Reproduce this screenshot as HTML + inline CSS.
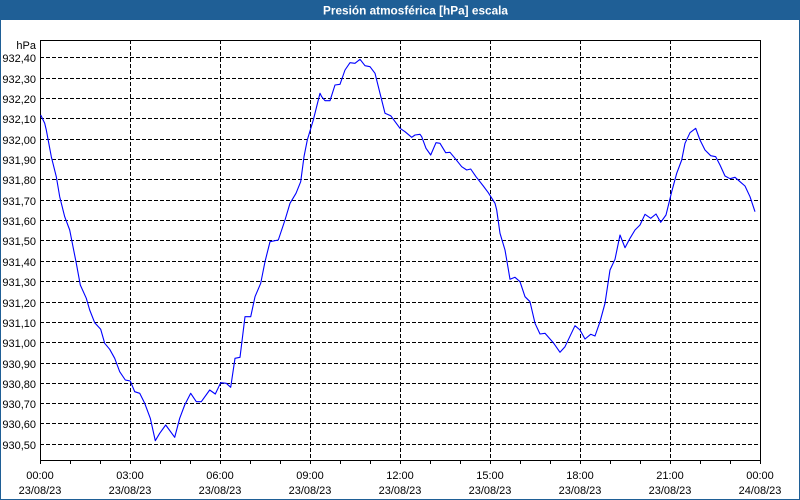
<!DOCTYPE html>
<html><head><meta charset="utf-8"><style>
html,body{margin:0;padding:0;background:#fff;}
svg{display:block;}
text{font-family:"Liberation Sans",sans-serif;font-size:11px;fill:#000;}
</style></head><body>
<svg width="800" height="500" viewBox="0 0 800 500" xmlns="http://www.w3.org/2000/svg">
<rect x="0" y="0" width="800" height="500" fill="#fff"/>
<rect x="0" y="0" width="800" height="20" fill="#1f5f96"/>
<text x="323" y="14.5" textLength="185" lengthAdjust="spacingAndGlyphs" style="font-weight:bold;font-size:12px;fill:#fff">Presión atmosférica [hPa] escala</text>
<g shape-rendering="crispEdges" fill="none">
<rect x="0.5" y="0.5" width="799" height="499" stroke="#1f5f96"/>
<g stroke="#000" stroke-dasharray="4,2">
<line x1="40" y1="57.5" x2="760" y2="57.5"/>
<line x1="40" y1="78.5" x2="760" y2="78.5"/>
<line x1="40" y1="98.5" x2="760" y2="98.5"/>
<line x1="40" y1="118.5" x2="760" y2="118.5"/>
<line x1="40" y1="139.5" x2="760" y2="139.5"/>
<line x1="40" y1="159.5" x2="760" y2="159.5"/>
<line x1="40" y1="179.5" x2="760" y2="179.5"/>
<line x1="40" y1="200.5" x2="760" y2="200.5"/>
<line x1="40" y1="220.5" x2="760" y2="220.5"/>
<line x1="40" y1="240.5" x2="760" y2="240.5"/>
<line x1="40" y1="261.5" x2="760" y2="261.5"/>
<line x1="40" y1="281.5" x2="760" y2="281.5"/>
<line x1="40" y1="302.5" x2="760" y2="302.5"/>
<line x1="40" y1="322.5" x2="760" y2="322.5"/>
<line x1="40" y1="342.5" x2="760" y2="342.5"/>
<line x1="40" y1="363.5" x2="760" y2="363.5"/>
<line x1="40" y1="383.5" x2="760" y2="383.5"/>
<line x1="40" y1="403.5" x2="760" y2="403.5"/>
<line x1="40" y1="423.5" x2="760" y2="423.5"/>
<line x1="40" y1="444.5" x2="760" y2="444.5"/>
<line x1="130.5" y1="40" x2="130.5" y2="464"/>
<line x1="220.5" y1="40" x2="220.5" y2="464"/>
<line x1="310.5" y1="40" x2="310.5" y2="464"/>
<line x1="400.5" y1="40" x2="400.5" y2="464"/>
<line x1="490.5" y1="40" x2="490.5" y2="464"/>
<line x1="580.5" y1="40" x2="580.5" y2="464"/>
<line x1="670.5" y1="40" x2="670.5" y2="464"/>
</g>
<g stroke="#000">
<line x1="40.5" y1="40" x2="40.5" y2="464"/>
<line x1="760.5" y1="40" x2="760.5" y2="464"/>
<line x1="40" y1="40.5" x2="761" y2="40.5"/>
<line x1="40" y1="460.5" x2="761" y2="460.5"/>
<line x1="70.5" y1="460" x2="70.5" y2="464"/>
<line x1="100.5" y1="460" x2="100.5" y2="464"/>
<line x1="160.5" y1="460" x2="160.5" y2="464"/>
<line x1="190.5" y1="460" x2="190.5" y2="464"/>
<line x1="250.5" y1="460" x2="250.5" y2="464"/>
<line x1="280.5" y1="460" x2="280.5" y2="464"/>
<line x1="340.5" y1="460" x2="340.5" y2="464"/>
<line x1="370.5" y1="460" x2="370.5" y2="464"/>
<line x1="430.5" y1="460" x2="430.5" y2="464"/>
<line x1="460.5" y1="460" x2="460.5" y2="464"/>
<line x1="520.5" y1="460" x2="520.5" y2="464"/>
<line x1="550.5" y1="460" x2="550.5" y2="464"/>
<line x1="610.5" y1="460" x2="610.5" y2="464"/>
<line x1="640.5" y1="460" x2="640.5" y2="464"/>
<line x1="700.5" y1="460" x2="700.5" y2="464"/>
<line x1="730.5" y1="460" x2="730.5" y2="464"/>
</g>
</g>
<polyline fill="none" stroke="#0000ff" stroke-width="1.1" stroke-linejoin="round" points="40.7,115 44.7,123.3 46.3,130 51.3,156.7 56.3,176.7 59.7,196.7 64.7,216.7 69.7,230 73,246.7 76.3,263.3 80.3,285 86.3,298.3 89.7,310 94.7,322.7 100.7,329.3 104.7,343.3 109.7,349.3 114.7,358.3 119.7,371.7 125.3,380 130.3,381 134.7,391.7 139.7,393.3 144.7,403.3 150.3,418.3 155.3,440.7 159.7,433.3 165.7,425 174.7,437.3 179.7,418.3 184.7,405 190.7,393.3 196.3,401.7 201.3,401.7 209.7,390 215.3,394 220.7,382.7 226.3,383.3 230.7,387.3 235,358.3 240,357.3 245,316.7 250.7,316.7 255,296.7 260.7,283.3 265,261.7 270,241.7 278.3,240 285,220 290,203.3 296,193.3 300.7,181.7 304,156.7 307.3,140 313.3,120 320,93.3 321.7,96.7 325,100.7 330,100.7 335,85 340,84.3 345,70 350,62.7 355,63.3 360,59.3 365,65.7 370,66.7 375,73.3 385,113.3 390.7,115.7 400,128.3 405,131.7 411.7,137.3 415,135 420,134.3 421.7,136.7 426,148.3 430.7,155 436,142.7 440,143.3 445.7,152.7 450,152.3 455,158.3 461.7,166.7 466.7,170 470.7,169 476,176.7 483.3,186 488.3,192.7 495,203.3 496.7,210 500,233.3 505,250 507.3,263.3 510,279.3 515,277.3 520,281.7 525,296.7 530,301.7 535,323.3 540,334 545,333.3 553.3,342.7 560,352.3 565,346.7 575,325.7 580,330 585,339 590.7,334.3 595,336 600,321.7 605,303.3 610,270 615,259.3 620,235 625,247.7 630,238.3 635,230 640,225 645,214.3 650.7,218.3 656,214 660.7,222.3 666,215 671.7,191.7 676.7,173.3 681.7,160 685,143.3 690,132.7 695.7,128.3 700,140 705,150 710.7,155.7 715.7,156.7 720,165 725,176 730,178.7 735,177.3 740,181.7 745,186 750,196.7 755,211.7"/>
<g text-anchor="end">
<text x="36" y="49">hPa</text>
<text x="36" y="62">932,40</text>
<text x="36" y="83">932,30</text>
<text x="36" y="103">932,20</text>
<text x="36" y="123">932,10</text>
<text x="36" y="144">932,00</text>
<text x="36" y="164">931,90</text>
<text x="36" y="184">931,80</text>
<text x="36" y="205">931,70</text>
<text x="36" y="225">931,60</text>
<text x="36" y="245">931,50</text>
<text x="36" y="266">931,40</text>
<text x="36" y="286">931,30</text>
<text x="36" y="307">931,20</text>
<text x="36" y="327">931,10</text>
<text x="36" y="347">931,00</text>
<text x="36" y="368">930,90</text>
<text x="36" y="388">930,80</text>
<text x="36" y="408">930,70</text>
<text x="36" y="428">930,60</text>
<text x="36" y="449">930,50</text>
</g>
<g text-anchor="middle">
<text x="40" y="479">00:00</text><text x="40" y="494">23/08/23</text>
<text x="130" y="479">03:00</text><text x="130" y="494">23/08/23</text>
<text x="220" y="479">06:00</text><text x="220" y="494">23/08/23</text>
<text x="310" y="479">09:00</text><text x="310" y="494">23/08/23</text>
<text x="400" y="479">12:00</text><text x="400" y="494">23/08/23</text>
<text x="490" y="479">15:00</text><text x="490" y="494">23/08/23</text>
<text x="580" y="479">18:00</text><text x="580" y="494">23/08/23</text>
<text x="670" y="479">21:00</text><text x="670" y="494">23/08/23</text>
<text x="760" y="479">00:00</text><text x="760" y="494">24/08/23</text>
</g>
</svg>
</body></html>
